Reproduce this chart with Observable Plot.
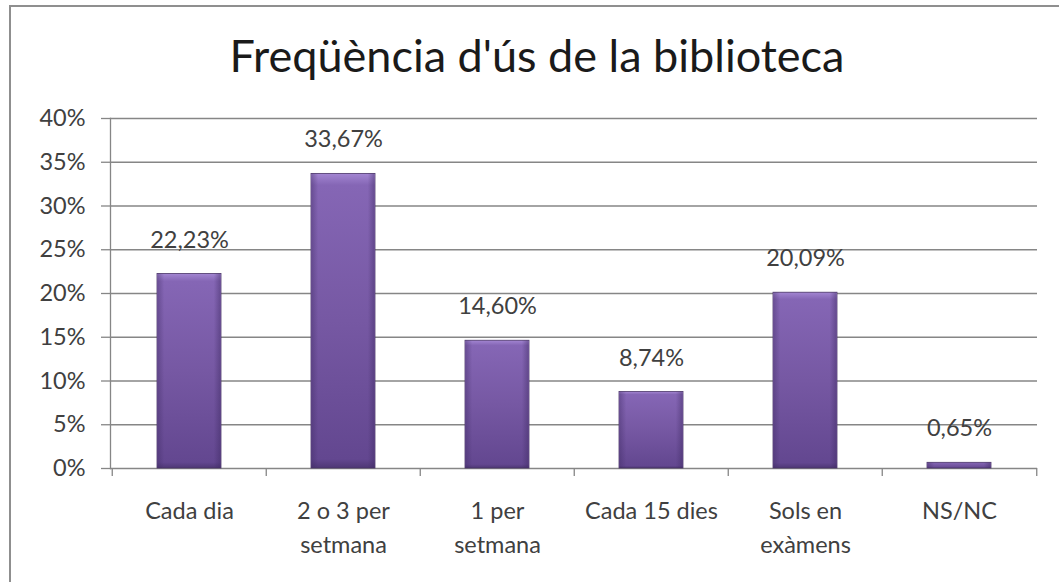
<!DOCTYPE html>
<html><head><meta charset="utf-8">
<script src="https://cdn.jsdelivr.net/npm/d3@7"></script>
<script src="https://cdn.jsdelivr.net/npm/@observablehq/plot@0.6"></script>
<style>
body{margin:0;width:1059px;height:582px;overflow:hidden;background:#fff;position:relative;font-family:Lato,sans-serif}
#frame{position:absolute;left:9px;top:5px;width:1200px;height:800px;border:2px solid #8f8f8f;box-sizing:border-box}
#title{position:absolute;left:0;width:1074px;top:28px;text-align:center;font-size:45px;color:#1a1a1a;line-height:1.2}
#chart{position:absolute;left:0;top:0}
</style></head>
<body>
<div id="frame"></div>
<div id="chart"></div>
<div id="title">Freqüència d'ús de la biblioteca</div>
<script>
const categories = ["Cada dia", "2 o 3 per\nsetmana", "1 per\nsetmana", "Cada 15 dies", "Sols en\nexàmens", "NS/NC"];
const values = [22.23, 33.67, 14.60, 8.74, 20.09, 0.65];
const yTicks = [0, 5, 10, 15, 20, 25, 30, 35, 40];

const data = categories.map((c, i) => ({cat: c, v: values[i]}));
const fmt = v => v.toFixed(2).replace(".", ",") + "%";
const W = 1059, H = 582, ML = 110, MR = 22;
const step = (W - ML - MR) / categories.length;
const FS = 23.5;

const chart = Plot.plot({
  width: W, height: H,
  marginLeft: ML, marginRight: MR, marginTop: 118, marginBottom: 114,
  style: {fontFamily: "Lato, sans-serif", fontSize: FS + "px", color: "#404040", background: "transparent"},
  x: {type: "band", domain: categories, padding: 0, axis: null, label: null},
  y: {domain: [0, 40], axis: null, label: null},
  marks: [
    Plot.gridY(yTicks, {stroke: "#868686", strokeOpacity: 1, strokeWidth: 1.3}),
    Plot.axisY(yTicks, {tickSize: 9, tickPadding: 16, stroke: "#868686", strokeWidth: 1.3, tickFormat: d => d + "%", fill: "#404040", fontSize: FS, label: null}),
    Plot.frame({anchor: "left", stroke: "#868686", strokeWidth: 1.3}),
    Plot.axisX(categories, {tickSize: 8, tickFormat: () => "", dx: -step / 2, stroke: "#868686", strokeWidth: 1.3, label: null}),
    Plot.axisX([categories[categories.length - 1]], {tickSize: 8, tickFormat: () => "", dx: step / 2, stroke: "#868686", strokeWidth: 1.3, label: null}),
    Plot.axisX(categories, {tickSize: 0, tickPadding: 27, lineHeight: 1.42, fill: "#404040", fontSize: FS, label: null}),
    Plot.barY(data, {x: "cat", y: "v", insetLeft: 45, insetRight: 45, fill: "url(#barGrad)", stroke: "#4a3568", strokeWidth: 0.8}),
    Plot.barY(data, {x: "cat", y: "v", insetLeft: 46, insetRight: 46, fill: "url(#barSide)"}),
    Plot.text(data, {x: "cat", y: "v", text: d => fmt(d.v), dy: -34, fill: "#404040", fontSize: FS})
  ]
});

const defs = d3.select(chart).insert("defs", ":first-child");
defs.html(`
<linearGradient id="barGrad" x1="0" y1="0" x2="0" y2="1">
  <stop offset="0" stop-color="#a386d2"/>
  <stop offset="0.04" stop-color="#8566b5"/>
  <stop offset="0.5" stop-color="#7658a3"/>
  <stop offset="0.97" stop-color="#634790"/>
  <stop offset="1" stop-color="#4e3775"/>
</linearGradient>
<linearGradient id="barSide" x1="0" y1="0" x2="1" y2="0">
  <stop offset="0" stop-color="#3c2860" stop-opacity="0.35"/>
  <stop offset="0.1" stop-color="#3c2860" stop-opacity="0"/>
  <stop offset="0.9" stop-color="#3c2860" stop-opacity="0"/>
  <stop offset="1" stop-color="#3c2860" stop-opacity="0.4"/>
</linearGradient>`);

document.getElementById("chart").appendChild(chart);
</script>
</body></html>
